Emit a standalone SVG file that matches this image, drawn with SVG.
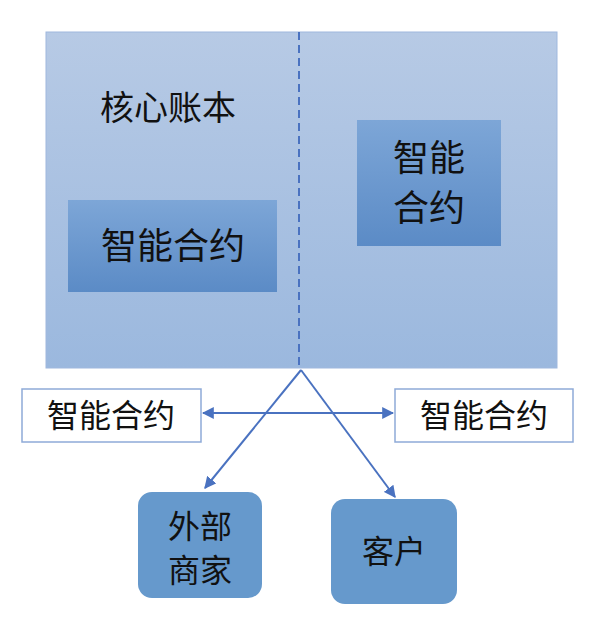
<svg xmlns="http://www.w3.org/2000/svg" width="600" height="627" viewBox="0 0 600 627">
<style>
text{font-family:"Liberation Sans","Noto Sans CJK SC",sans-serif;fill:#111;text-anchor:middle}
.inner{fill:url(#gi)}
.wb{fill:#fff;stroke:#8eaad8;stroke-width:1.5}
.rb{fill:#6699cc}
.c{stroke:#4a72c0;stroke-width:2;fill:none}
</style>
<defs>
<linearGradient id="gb" x1="0" y1="0" x2="0" y2="1"><stop offset="0" stop-color="#b7cae5"/><stop offset="1" stop-color="#9bb8de"/></linearGradient>
<linearGradient id="gi" x1="0" y1="0" x2="0" y2="1"><stop offset="0" stop-color="#7da6d7"/><stop offset="1" stop-color="#5b8bc6"/></linearGradient>
<marker id="ah" viewBox="0 0 10 10" refX="9" refY="5" markerWidth="6" markerHeight="6" orient="auto-start-reverse"><path d="M0,0 L10,5 L0,10 z" fill="#4a72c0"/></marker>
</defs>
<g id="ledger">
<rect x="46" y="32" width="511" height="336" fill="url(#gb)" stroke="#9fb8de"/>
<line x1="299" y1="32" x2="299" y2="368" stroke="#4a72c0" stroke-width="2" stroke-dasharray="8,5"/>
<text x="168" y="120" font-size="34">核心账本</text>
</g>
<g id="sc-left"><rect class="inner" x="68" y="200" width="209" height="92"/><text x="173" y="259" font-size="36">智能合约</text></g>
<g id="sc-right"><rect class="inner" x="357" y="120" width="144" height="126"/><text x="429" y="171" font-size="36">智能</text><text x="429" y="221" font-size="36">合约</text></g>
<g id="sc-out-left"><rect class="wb" x="22" y="389" width="179" height="53"/><text x="111" y="427" font-size="32">智能合约</text></g>
<g id="sc-out-right"><rect class="wb" x="395" y="389" width="178" height="53"/><text x="484" y="427" font-size="32">智能合约</text></g>
<g id="merchant"><rect class="rb" x="138" y="492" width="124" height="106" rx="14"/><text x="200" y="538" font-size="32">外部</text><text x="200" y="582" font-size="32">商家</text></g>
<g id="client"><rect class="rb" x="331" y="499" width="126" height="105" rx="14"/><text x="394" y="563" font-size="32">客户</text></g>
<g id="connectors">
<line class="c" x1="203" y1="413" x2="393" y2="413" marker-start="url(#ah)" marker-end="url(#ah)"/>
<line class="c" x1="301" y1="370" x2="205" y2="488" marker-end="url(#ah)"/>
<line class="c" x1="301" y1="370" x2="395" y2="497" marker-end="url(#ah)"/>
</g>
</svg>
